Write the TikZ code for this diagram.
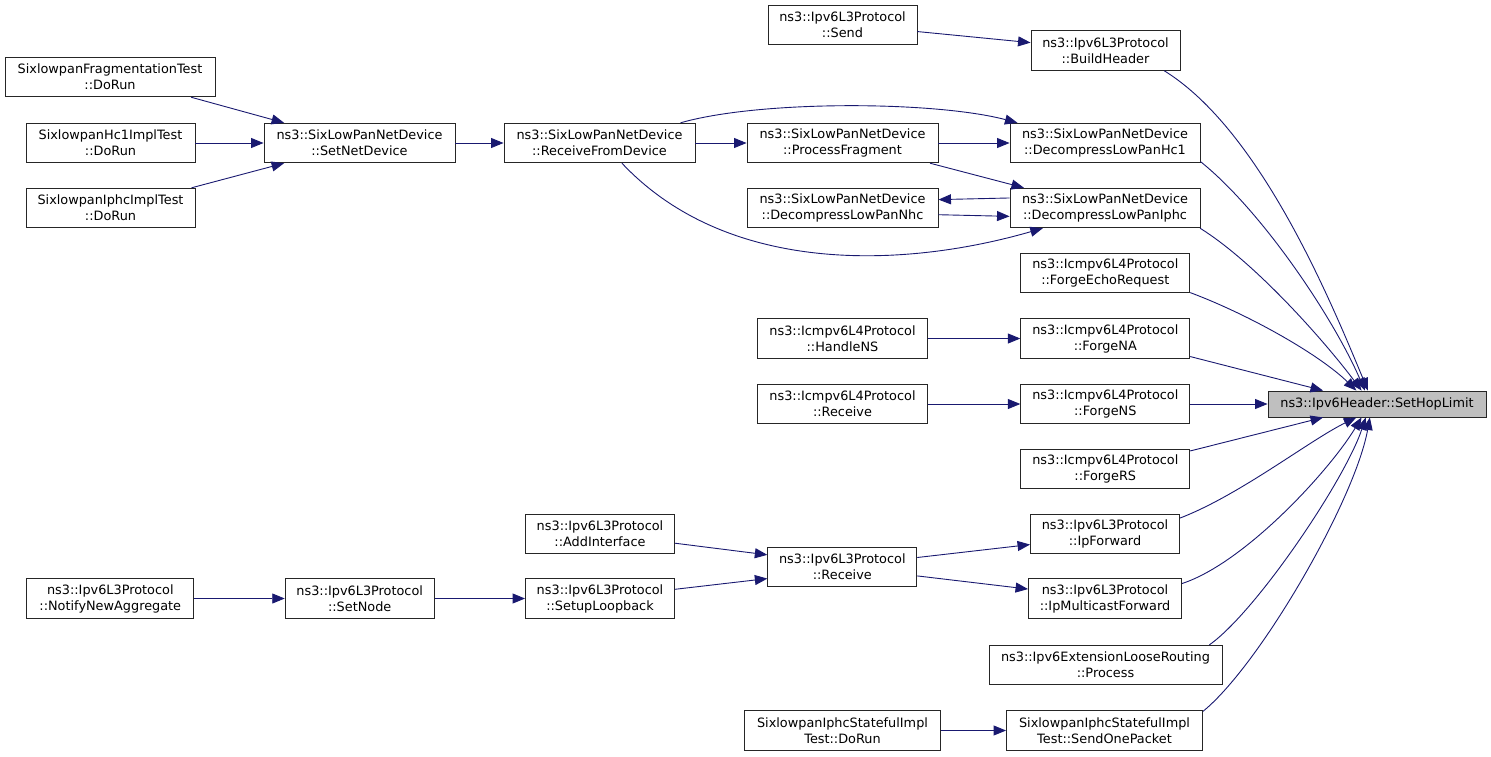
\documentclass[tikz,border=0pt]{standalone}
\usepackage{fontspec}
\setmainfont{DejaVu Sans}
\usetikzlibrary{arrows.meta}
\definecolor{edgec}{HTML}{191970}
\definecolor{boxc}{HTML}{BFBFBF}
\tikzset{
  box/.style={draw=black!85, fill=white, line width=0.9pt, inner sep=0pt, align=center,
    minimum height=39.5pt, font=\fontsize{12.85}{16}\selectfont},
  hilite/.style={box, fill=boxc, minimum height=26pt},
  edge/.style={draw=edgec, line width=0.9pt, -{Triangle[length=12.5pt,width=10pt]}}
}
\begin{document}
\begin{tikzpicture}[x=1pt,y=-1pt]
\useasboundingbox (0,0) rectangle (1491,756);
% nodes
\node[box, minimum width=149pt] (send) at (842.5,25) {ns3::Ipv6L3Protocol\\::Send};
\node[box, minimum width=149pt] (bh) at (1105.5,50.5) {ns3::Ipv6L3Protocol\\::BuildHeader};
\node[box, minimum width=210pt] (frag) at (110,77) {SixlowpanFragmentationTest\\::DoRun};
\node[box, minimum width=169pt] (hc1t) at (110.5,143) {SixlowpanHc1ImplTest\\::DoRun};
\node[box, minimum width=169pt] (ipht) at (110.5,208) {SixlowpanIphcImplTest\\::DoRun};
\node[box, minimum width=191pt] (snd) at (359.5,143) {ns3::SixLowPanNetDevice\\::SetNetDevice};
\node[box, minimum width=191pt] (rfd) at (599.5,143) {ns3::SixLowPanNetDevice\\::ReceiveFromDevice};
\node[box, minimum width=191pt] (pf) at (842.5,143) {ns3::SixLowPanNetDevice\\::ProcessFragment};
\node[box, minimum width=190pt] (hc1) at (1105,143) {ns3::SixLowPanNetDevice\\::DecompressLowPanHc1};
\node[box, minimum width=191pt] (nhc) at (842.5,208) {ns3::SixLowPanNetDevice\\::DecompressLowPanNhc};
\node[box, minimum width=190pt] (iphc) at (1105,208) {ns3::SixLowPanNetDevice\\::DecompressLowPanIphc};
\node[box, minimum width=169pt] (echo) at (1105.3,273) {ns3::Icmpv6L4Protocol\\::ForgeEchoRequest};
\node[box, minimum width=170pt] (hns) at (842.5,338.5) {ns3::Icmpv6L4Protocol\\::HandleNS};
\node[box, minimum width=169pt] (fna) at (1105.3,338.5) {ns3::Icmpv6L4Protocol\\::ForgeNA};
\node[box, minimum width=170pt] (irecv) at (842.5,404) {ns3::Icmpv6L4Protocol\\::Receive};
\node[box, minimum width=169pt] (fns) at (1105.3,404) {ns3::Icmpv6L4Protocol\\::ForgeNS};
\node[box, minimum width=169pt] (frs) at (1105.3,469) {ns3::Icmpv6L4Protocol\\::ForgeRS};
\node[hilite, minimum width=218pt] (shl) at (1377,404) {ns3::Ipv6Header::SetHopLimit};
\node[box, minimum width=149pt] (addif) at (600,534) {ns3::Ipv6L3Protocol\\::AddInterface};
\node[box, minimum width=149pt] (recv) at (842.3,566.7) {ns3::Ipv6L3Protocol\\::Receive};
\node[box, minimum width=149pt] (ipf) at (1105,534) {ns3::Ipv6L3Protocol\\::IpForward};
\node[box, minimum width=167pt] (notify) at (110.3,598.5) {ns3::Ipv6L3Protocol\\::NotifyNewAggregate};
\node[box, minimum width=149pt] (setnode) at (359.7,598.5) {ns3::Ipv6L3Protocol\\::SetNode};
\node[box, minimum width=149pt] (slb) at (600,598.5) {ns3::Ipv6L3Protocol\\::SetupLoopback};
\node[box, minimum width=153pt] (ipmf) at (1105,598.5) {ns3::Ipv6L3Protocol\\::IpMulticastForward};
\node[box, minimum width=233pt] (loose) at (1105.5,665) {ns3::Ipv6ExtensionLooseRouting\\::Process};
\node[box, minimum width=196pt] (sdr) at (842.5,730.5) {SixlowpanIphcStatefulImpl\\Test::DoRun};
\node[box, minimum width=196pt] (sop) at (1104.5,730.5) {SixlowpanIphcStatefulImpl\\Test::SendOnePacket};
% edges
\draw[edge] (send.-5.6) -- (bh.174.5);
\draw[edge] (frag.-14) -- (snd.165.7);
\draw[edge] (hc1t) -- (snd);
\draw[edge] (ipht.14.1) -- (snd.-165.7);
\draw[edge] (snd) -- (rfd);
\draw[edge] (rfd) -- (pf);
\draw[edge] (rfd.14.5) .. controls (760,100) and (935,101) .. (hc1.167.5);
\draw[edge] (pf) -- (hc1);
\draw[edge] (pf.-13.5) -- (iphc.166.8);
\draw[edge] (iphc.174.6) -- (nhc.5.4);
\draw[edge] (nhc.-4.8) -- (iphc.-175.2);
\draw[edge] (rfd.-42) .. controls (728,276) and (905,268) .. (iphc.-162.4);
\draw[edge] (bh.-19.7) .. controls (1260,130) and (1330,299) .. (shl.124.7);
\draw[edge] (hc1.-11.8) .. controls (1262,211) and (1333,317) .. (shl.132.7);
\draw[edge] (iphc.-12.2) .. controls (1256,263) and (1326,343) .. (shl.139.1);
\draw[edge] (echo.-13.3) .. controls (1250,315) and (1320,355) .. (shl.147);
\draw[edge] (hns) -- (fna);
\draw[edge] (fna.-12) -- (shl.166.5);
\draw[edge] (irecv) -- (fns);
\draw[edge] (fns) -- (shl);
\draw[edge] (frs.12) -- (shl.-166.5);
\draw[edge] (addif.-7.3) -- (recv.171.8);
\draw[edge] (slb.7.8) -- (recv.-171.9);
\draw[edge] (notify) -- (setnode);
\draw[edge] (setnode) -- (slb);
\draw[edge] (recv.7.6) -- (ipf.-172.9);
\draw[edge] (recv.-7.1) -- (ipmf.173.1);
\draw[edge] (ipf.12.8) .. controls (1240,495) and (1310,440) .. (shl.-147);
\draw[edge] (ipmf.11.1) .. controls (1245,563) and (1330,470) .. (shl.-139);
\draw[edge] (loose.11.8) .. controls (1256,612) and (1345,480) .. (shl.-130.2);
\draw[edge] (sop.11) .. controls (1260,665) and (1355,500) .. (shl.-118.3);
\draw[edge] (sdr) -- (sop);
\end{tikzpicture}
\end{document}
